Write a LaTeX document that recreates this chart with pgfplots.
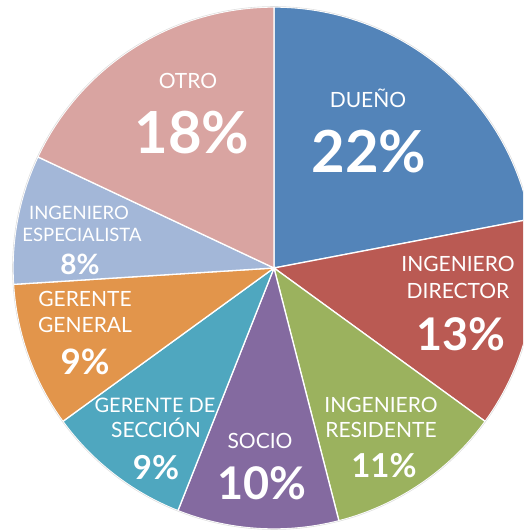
\documentclass[border=0pt]{standalone}
\usepackage{pgfplots}
\pgfplotsset{compat=1.18}
\usepackage{pgfplotstable}
\usepackage{fontspec}
\setmainfont{Lato}
\definecolor{c0}{HTML}{5384B9}
\definecolor{c1}{HTML}{BA5A53}
\definecolor{c2}{HTML}{9BB25E}
\definecolor{c3}{HTML}{846AA0}
\definecolor{c4}{HTML}{4FA7BF}
\definecolor{c5}{HTML}{E2954B}
\definecolor{c6}{HTML}{A3B7D8}
\definecolor{c7}{HTML}{D9A4A1}
\pgfplotstableread{
label value
DUENO 22
DIRECTOR 13
RESIDENTE 11
SOCIO 10
SECCION 9
GENERAL 9
ESPECIALISTA 8
OTRO 18
}\piedata
\newcommand{\lab}[3]{\node[anchor=base, text=white, align=center, font=\fontsize{21}{24}\selectfont] at (#1,#2) {#3};}
\newcommand{\pct}[4]{\node[anchor=base, text=white, font=\fontsize{#3}{#3}\selectfont\bfseries] at (#1,#2) {#4};}
\begin{document}
\begin{tikzpicture}
\begin{axis}[scale only axis, width=523pt, height=531pt,
  xmin=-274, xmax=249, ymin=-263, ymax=268, axis lines=none, clip=true]
\gdef\cum{0}
\pgfplotsinvokeforeach{0,...,7}{
  \pgfplotstablegetelem{#1}{value}\of\piedata
  \pgfmathsetmacro\startang{90-3.6*\cum}
  \pgfmathsetmacro\endang{90-3.6*(\cum+\pgfplotsretval)}
  \pgfmathsetmacro\newcum{\cum+\pgfplotsretval}
  \xdef\cum{\newcum}
  \addplot[fill=c#1, draw=white, line width=1.3pt, domain=\endang:\startang, samples=90, variable=\t]
    ({261*cos(\t)},{261*sin(\t)}) -- (0,0) -- cycle;
}
\addplot[draw=black!12, line width=0.6pt, domain=0:360, samples=240, variable=\t] ({261.5*cos(\t)},{261.5*sin(\t)});
% labels
\lab{94}{160}{DUEÑO}
\pct{95}{95}{58}{22\%}
\lab{184}{-4}{INGENIERO}
\lab{184}{-31}{DIRECTOR}
\pct{187}{-83}{45}{13\%}
\lab{107}{-145}{INGENIERO}
\lab{107}{-170}{RESIDENTE}
\pct{110}{-210}{33}{11\%}
\lab{-14}{-181}{SOCIO}
\pct{-12}{-232}{45}{10\%}
\node[anchor=base, text=white, font=\fontsize{20}{24}\selectfont] at (-119,-145) {GERENTE DE};
\lab{-118}{-170}{SECCIÓN}
\pct{-118}{-212}{33}{9\%}
\lab{-189}{-39}{GERENTE}
\lab{-189}{-65}{GENERAL}
\pct{-189}{-107}{35}{9\%}
\node[anchor=base, text=white, font=\fontsize{18.5}{22}\selectfont] at (-195,48) {INGENIERO};
\node[anchor=base, text=white, font=\fontsize{18.5}{22}\selectfont] at (-192,26) {ESPECIALISTA};
\pct{-194}{-7}{28}{8\%}
\lab{-86}{179}{OTRO}
\pct{-82}{114}{58}{18\%}
\end{axis}
\pgfresetboundingbox
\useasboundingbox (current axis.south west) rectangle (current axis.north east);
\end{tikzpicture}
\end{document}
